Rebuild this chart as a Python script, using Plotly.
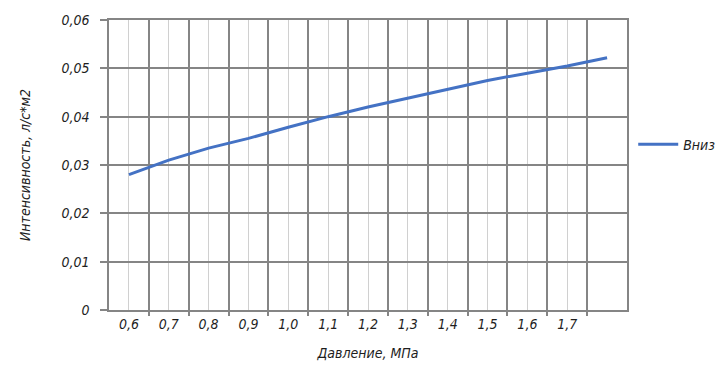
import plotly.graph_objects as go

# Data
pressure = [0.6, 0.7, 0.8, 0.9, 1.0, 1.1, 1.2, 1.3, 1.4, 1.5, 1.6, 1.7, 1.8]
intensity = [0.028, 0.031, 0.0335, 0.0355, 0.0378, 0.0400, 0.0420, 0.0438,
             0.0456, 0.0475, 0.0490, 0.0505, 0.0522]
series_name = "Вниз"
x_tick_vals = [0.6, 0.7, 0.8, 0.9, 1.0, 1.1, 1.2, 1.3, 1.4, 1.5, 1.6, 1.7]
x_tick_text = ["0,6", "0,7", "0,8", "0,9", "1,0", "1,1", "1,2", "1,3",
               "1,4", "1,5", "1,6", "1,7"]
y_tick_vals = [0, 0.01, 0.02, 0.03, 0.04, 0.05, 0.06]
y_tick_text = ["0", "0,01", "0,02", "0,03", "0,04", "0,05", "0,06"]
x_title = "Давление, МПа"
y_title = "Интенсивность, л/с*м2"

half = 0.05
boundaries = [round(p + half, 3) for p in pressure[:-1]]

FONT = "DejaVu Sans Condensed, DejaVu Sans, sans-serif"
dark = "#858585"
light = "#d0d0d0"
txt = "#1e1e1e"

fig = go.Figure()
fig.add_trace(go.Scatter(
    x=pressure, y=intensity, mode="lines", name=series_name,
    line=dict(color="#4472C4", width=3),
))

fig.update_layout(
    width=725, height=387,
    margin=dict(l=109, r=98, t=20, b=77, autoexpand=False),
    paper_bgcolor="white", plot_bgcolor="white",
    font=dict(family=FONT, size=14, color=txt, style="italic"),
    showlegend=True,
    legend=dict(x=1.012, xanchor="left", y=0.57, yanchor="middle",
                font=dict(family=FONT, size=14, color=txt, style="italic"),
                bgcolor="rgba(0,0,0,0)", itemwidth=40),
    xaxis=dict(
        range=[pressure[0] - half, pressure[-1] + half],
        tickmode="array", tickvals=x_tick_vals, ticktext=x_tick_text,
        showgrid=True, gridcolor=light, gridwidth=1,
        ticks="", zeroline=False,
        showline=True, linecolor=dark, linewidth=1.5, mirror=True,
        minor=dict(tickmode="array", tickvals=boundaries, showgrid=True,
                   gridcolor=dark, gridwidth=1.5, ticks="outside",
                   ticklen=4, tickcolor=dark, tickwidth=1.5),
        title=dict(text=x_title, font=dict(family=FONT, size=14, style="italic"),
                   standoff=18),
        tickfont=dict(family=FONT, size=14, style="italic"),
    ),
    yaxis=dict(
        range=[0, 0.06],
        tickmode="array", tickvals=y_tick_vals, ticktext=y_tick_text,
        showgrid=True, gridcolor=dark, gridwidth=1.5,
        ticks="outside", ticklen=7, tickcolor=dark, tickwidth=1.5,
        ticklabelstandoff=8,
        zeroline=False,
        showline=True, linecolor=dark, linewidth=1.5, mirror=True,
        title=dict(text=y_title, font=dict(family=FONT, size=14, style="italic"),
                   standoff=28),
        tickfont=dict(family=FONT, size=14, style="italic"),
    ),
)

fig.write_html("out.html")
